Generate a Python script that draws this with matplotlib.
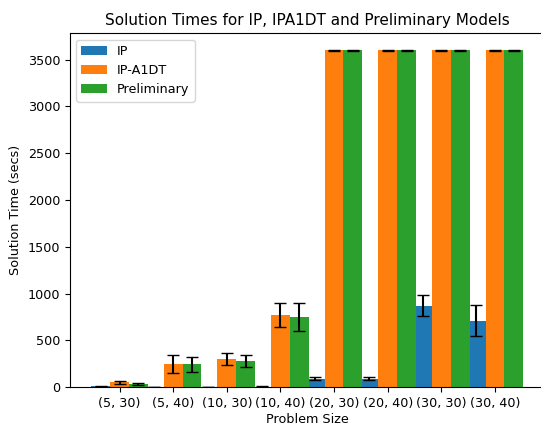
import numpy as np
import matplotlib.pyplot as plt

sizes = ['(5, 30)', '(5, 40)', '(10, 30)', '(10, 40)',
         '(20, 30)', '(20, 40)', '(30, 30)', '(30, 40)']

ip_mean = [8, 1, 1, 6, 90, 90, 870, 710]
ip_err = [3, 1, 1, 3, 15, 15, 110, 165]

a1dt_mean = [50, 250, 300, 770, 3600, 3600, 3600, 3600]
a1dt_err = [20, 95, 65, 128, 3, 3, 3, 3]

prelim_mean = [32, 245, 278, 750, 3600, 3600, 3600, 3600]
prelim_err = [10, 78, 65, 150, 3, 3, 3, 3]

plt.rcParams['font.size'] = 9.2

fig = plt.figure(figsize=(5.41, 4.25), dpi=100)
ax = fig.add_axes([0.129, 0.089, 0.878, 0.833])

x = np.arange(len(sizes))
w = 0.35

ax.bar(x - w, ip_mean, w, yerr=ip_err, capsize=4.5, label='IP')
ax.bar(x, a1dt_mean, w, yerr=a1dt_err, capsize=4.5, label='IP-A1DT')
ax.bar(x + w, prelim_mean, w, yerr=prelim_err, capsize=4.5, label='Preliminary')

ax.set_xticks(x)
ax.set_xticklabels(sizes)
ax.set_xlabel('Problem Size', labelpad=2)
ax.set_ylabel('Solution Time (secs)')
ax.set_title('Solution Times for IP, IPA1DT and Preliminary Models', fontsize=11)
ax.legend(loc='upper left')

fig.savefig('out.png', dpi=100)
